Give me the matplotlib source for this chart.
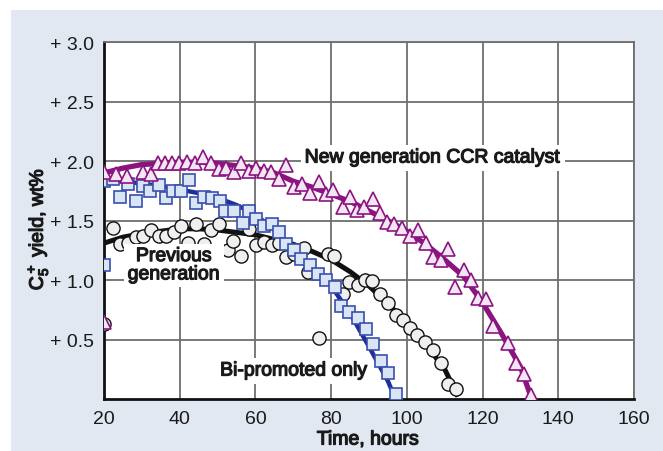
import os
import matplotlib
matplotlib.use("Agg")
import matplotlib.pyplot as plt
from matplotlib.patches import Rectangle
from matplotlib import font_manager
from matplotlib.font_manager import FontProperties
import matplotlib.patheffects as pe

# ---------------- data ----------------
new_x = [20.0, 20.1, 23.2, 26.2, 30.2, 32.4, 34.2, 36.0, 38.0, 39.9, 41.8, 44.1, 46.2, 48.3,
         50.3, 52.2, 54.4, 56.2, 58.4, 60.2, 62.3, 64.1, 66.1, 68.1, 70.3, 72.3, 74.4, 76.9,
         78.6, 80.6, 83.0, 85.1, 86.8, 88.8, 91.0, 93.0, 94.8, 96.7, 98.6, 100.8, 103.0,
         105.1, 106.8, 108.9, 110.8, 112.7, 115.0, 117.0, 118.7, 120.9, 122.7, 126.8, 128.8,
         130.9, 132.8]
new_y = [0.65, 1.91, 1.89, 1.87, 1.91, 1.89, 1.98, 1.98, 1.98, 1.98, 1.99, 1.98, 2.03, 1.98,
         1.93, 1.94, 1.91, 1.98, 1.92, 1.94, 1.92, 1.91, 1.85, 1.97, 1.78, 1.81, 1.73, 1.82,
         1.72, 1.76, 1.61, 1.70, 1.59, 1.61, 1.68, 1.56, 1.49, 1.47, 1.44, 1.37, 1.42,
         1.31, 1.19, 1.17, 1.26, 0.94, 1.08, 1.00, 0.85, 0.84, 0.61, 0.47, 0.30,
         0.21, 0.03]

new_fit_x = [20, 25, 30, 35, 40, 45, 50, 55, 60, 65, 70, 75, 80, 85, 90, 95, 100, 105,
             110, 115, 120, 125, 130, 133]
new_fit_y = [1.90, 1.94, 1.97, 1.98, 1.99, 1.99, 1.98, 1.96, 1.94, 1.90, 1.83, 1.78, 1.72,
             1.66, 1.58, 1.50, 1.41, 1.30, 1.17, 1.03, 0.81, 0.55, 0.27, 0.0]

prev_x = [20.0, 22.4, 24.2, 26.4, 28.5, 30.4, 32.3, 34.5, 36.4, 38.4, 40.3, 42.3, 44.3, 46.5,
          48.3, 50.5, 52.7, 54.2, 56.2, 58.4, 60.2, 62.3, 64.3, 66.3, 68.1, 70.3, 72.7, 73.8,
          76.9, 79.1, 80.8, 83.0, 84.8, 87.0, 89.0, 90.9, 93.0, 95.0, 97.1, 98.9, 100.8,
          102.8, 104.8, 106.8, 109.0, 110.8, 112.9]
prev_y = [0.63, 1.44, 1.30, 1.31, 1.36, 1.37, 1.42, 1.37, 1.37, 1.40, 1.45, 1.31, 1.47, 1.30,
          1.42, 1.47, 1.25, 1.33, 1.20, 1.43, 1.29, 1.32, 1.29, 1.31, 1.19, 1.22, 1.27, 1.07,
          0.51, 1.22, 1.20, 0.88, 0.98, 0.96, 1.00, 0.99, 0.88, 0.81, 0.71, 0.66, 0.60,
          0.54, 0.48, 0.41, 0.30, 0.13, 0.08]

prev_fit_x = [20, 25, 30, 35, 40, 45, 50, 55, 60, 65, 70, 75, 80, 85, 90, 95, 100, 105,
              110, 113.5]
prev_fit_y = [1.31, 1.36, 1.39, 1.41, 1.43, 1.43, 1.42, 1.40, 1.38, 1.34, 1.30, 1.24, 1.17,
              1.07, 0.95, 0.80, 0.64, 0.46, 0.25, 0.02]

bi_x = [20.0, 20.1, 22.4, 24.3, 26.3, 28.5, 30.2, 32.2, 34.5, 36.3, 38.1, 40.4, 42.5, 44.4,
        46.3, 48.4, 50.7, 52.0, 54.4, 56.6, 58.4, 60.2, 62.2, 64.3, 66.3, 68.1, 70.2, 72.0,
        74.3, 76.5, 78.7, 80.9, 82.6, 84.8, 87.0, 89.2, 91.0, 93.2, 94.9, 97.1]
bi_y = [1.13, 1.83, 1.85, 1.70, 1.81, 1.66, 1.79, 1.75, 1.80, 1.69, 1.75, 1.75, 1.84, 1.65,
        1.70, 1.69, 1.66, 1.58, 1.58, 1.48, 1.58, 1.51, 1.45, 1.47, 1.40, 1.30, 1.25, 1.18,
        1.13, 1.05, 1.00, 0.94, 0.78, 0.73, 0.68, 0.59, 0.46, 0.32, 0.22, 0.04]

bi_fit_x = [20, 25, 30, 35, 40, 45, 50, 55, 60, 65, 70, 75, 80, 85, 90, 95, 97]
bi_fit_y = [1.84, 1.83, 1.81, 1.79, 1.76, 1.73, 1.69, 1.63, 1.55, 1.42, 1.26, 1.10, 0.95,
            0.72, 0.44, 0.15, 0.0]

x_ticks = [20, 40, 60, 80, 100, 120, 140, 160]
y_ticks = [0.5, 1.0, 1.5, 2.0, 2.5, 3.0]
y_tick_labels = ["+ 0.5", "+ 1.0", "+ 1.5", "+ 2.0", "+ 2.5", "+ 3.0"]

# ---------------- fonts ----------------
TXT = "#1a1a1a"
NARROW = "Liberation Sans Narrow"
all_fonts = font_manager.fontManager.ttflist
have_narrow = any(f.name == NARROW for f in all_fonts)
bold_file = None
for f in all_fonts:
    base = os.path.basename(f.fname)
    if f.name == NARROW and "Bold" in base and "Italic" not in base:
        bold_file = f.fname
        break

if have_narrow:
    plt.rcParams["font.family"] = [NARROW, "DejaVu Sans"]
else:
    plt.rcParams["font.family"] = ["Liberation Sans", "DejaVu Sans"]
plt.rcParams["mathtext.default"] = "regular"


def fp(size):
    return FontProperties(family=plt.rcParams["font.family"][0], size=size)


def bold_kw(size):
    if bold_file:
        return dict(fontproperties=FontProperties(fname=bold_file, size=size))
    # faux bold: regular narrow face with a thin outline of the same colour
    return dict(fontproperties=fp(size),
                path_effects=[pe.withStroke(linewidth=0.9, foreground=TXT)])


BG = "#e2e8f2"
PURPLE = "#8c1480"
PURPLE_FILL = "#f1e6f2"
BLUE = "#1f2f9a"
BLUE_EDGE = "#3a4fae"
BLUE_FILL = "#d9e5f5"
GRID = "#6e6e6e"

fig = plt.figure(figsize=(6.63, 4.52), dpi=100)
fig.patch.set_facecolor("white")
bg = Rectangle((11 / 663, 0), 1 - 11 / 663, 1 - 11 / 452,
               transform=fig.transFigure, facecolor=BG, edgecolor="none", zorder=-10)
fig.patches.append(bg)

ax = fig.add_axes([104 / 663, 52 / 452, 530 / 663, 357 / 452])
ax.set_zorder(1)
ax.set_facecolor("white")
ax.set_xlim(20, 160)
ax.set_ylim(0, 3.0)

ax.set_xticks(x_ticks)
ax.set_yticks(y_ticks)
ax.set_yticklabels(y_tick_labels)
ax.tick_params(axis="both", length=0, colors=TXT, labelsize=14)
ax.tick_params(axis="y", pad=7)
ax.tick_params(axis="x", pad=8)
ax.grid(True, color=GRID, linewidth=1.3, zorder=1)
ax.set_axisbelow(True)

for s in ["left", "bottom"]:
    ax.spines[s].set_linewidth(2.0)
    ax.spines[s].set_color("#111111")
for s in ["top", "right"]:
    ax.spines[s].set_linewidth(1.3)
    ax.spines[s].set_color(GRID)

# previous generation
ax.plot(prev_fit_x, prev_fit_y, color="#111111", lw=3.6, zorder=3, solid_capstyle="butt")
ax.plot(prev_x, prev_y, linestyle="none", marker="o", markersize=9.5,
        markerfacecolor="#efefef", markeredgecolor="#111111", markeredgewidth=1.0, zorder=4)

# bi-promoted only
ax.plot(bi_fit_x, bi_fit_y, color=BLUE, lw=3.2, zorder=5, solid_capstyle="butt")
ax.plot(bi_x, bi_y, linestyle="none", marker="s", markersize=8.5,
        markerfacecolor=BLUE_FILL, markeredgecolor=BLUE_EDGE, markeredgewidth=1.2, zorder=6)

# new generation
ax.plot(new_fit_x, new_fit_y, color=PURPLE, lw=3.8, zorder=7, solid_capstyle="butt")
ax.plot(new_x, new_y, linestyle="none", marker="^", markersize=10.5,
        markerfacecolor=PURPLE_FILL, markeredgecolor=PURPLE, markeredgewidth=1.2, zorder=8)

box = dict(facecolor="white", edgecolor="none", pad=3)
ax.text(106.9, 2.025, "New generation CCR catalyst", ha="center", va="center", color=TXT,
        bbox=box, zorder=9, **bold_kw(14))
ax.text(38.5, 1.12, "Previous\ngeneration", ha="center", va="center", color=TXT,
        linespacing=1.1, bbox=box, zorder=9, **bold_kw(14))
ax.text(70.2, 0.235, "Bi-promoted only", ha="center", va="center", color=TXT,
        bbox=box, zorder=9, **bold_kw(14))

fig.text(368 / 663, 1 - 441 / 452, "Time, hours", ha="center", va="center", color=TXT,
         **bold_kw(14))
fig.text(38 / 663, 1 - 230 / 452, r"C$_5^+$ yield, wt%", rotation=90, ha="center",
         va="center", color=TXT, **bold_kw(14))

fig.savefig("out.png", dpi=100, facecolor=fig.get_facecolor())
